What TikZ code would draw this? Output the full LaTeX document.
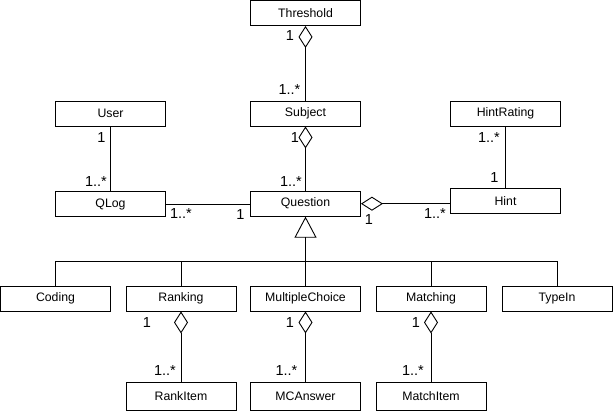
\documentclass[tikz,border=0pt]{standalone}
\usepackage{fontspec}
\setmainfont{Liberation Sans}
\usetikzlibrary{arrows.meta}
\begin{document}
\begin{tikzpicture}[x=1pt,y=-1pt,
 cls/.style={draw, line width=0.9pt, minimum width=110pt, minimum height=25pt, inner sep=0pt, font=\fontsize{12.3}{14}\selectfont},
 item/.style={cls, minimum height=28pt},
 mult/.style={inner sep=0pt, font=\fontsize{14.5}{16}\selectfont},
 ln/.style={line width=0.9pt},
 agg/.style={ln, {Diamond[open,length=22pt,width=14pt]}-},
 gen/.style={ln, -{Triangle[open,length=21pt,width=22pt]}}
]
\useasboundingbox (0,0) rectangle (614,415);
% classes
\node[cls] (threshold) at (305.5,13) {Threshold};
\node[cls] (subject) at (305.5,113.5) {Subject};
\node[cls] (question) at (305.5,203.7) {Question};
\node[cls] (user) at (110.5,113.5) {User};
\node[cls] (qlog) at (110.5,204) {QLog};
\node[cls] (hintrating) at (505.5,113.5) {HintRating};
\node[cls] (hint) at (505.5,201.3) {Hint};
\node[cls] (coding) at (55.5,298.5) {Coding};
\node[cls] (ranking) at (181,298.5) {Ranking};
\node[cls] (mc) at (305.5,298.5) {MultipleChoice};
\node[cls] (matching) at (431,298.5) {Matching};
\node[cls] (typein) at (557,298.5) {TypeIn};
\node[item] (rankitem) at (181,396) {RankItem};
\node[item] (mcanswer) at (305.5,396) {MCAnswer};
\node[item] (matchitem) at (431,396) {MatchItem};
% connectors
\draw[agg] (threshold.south) -- (subject.north);
\draw[agg] (subject.south) -- (question.north);
\draw[ln] (user.south) -- (qlog.north);
\draw[ln] (qlog.east) -- (qlog.east -| question.west);
\draw[agg] (question.east) -- (question.east -| hint.west);
\draw[ln] (hintrating.south) -- (hint.north);
\draw[gen] (mc.north) -- (question.south);
\coordinate (bar) at (305.5,261.5);
\draw[ln] (coding.north) |- (bar) -| (typein.north);
\draw[ln] (ranking.north) -- (ranking.north |- bar);
\draw[ln] (matching.north) -- (matching.north |- bar);
\draw[agg] (ranking.south) -- (rankitem.north);
\draw[agg] (mc.south) -- (mcanswer.north);
\draw[agg] (matching.south) -- (matchitem.north);
% multiplicities
\node[mult] (m1) at (290,35.5) {1};
\node[mult] (m2) at (289.5,89.5) {1..*};
\node[mult] (m3) at (295,138) {1};
\node[mult] (m4) at (291,181.5) {1..*};
\node[mult] (m5) at (101.5,138) {1};
\node[mult] (m6) at (96,181.5) {1..*};
\node[mult] (m7) at (181,214) {1..*};
\node[mult] (m8) at (240.5,214.5) {1};
\node[mult] (m9) at (489,137.5) {1..*};
\node[mult] (m10) at (494.5,178) {1};
\node[mult] (m11) at (369,220) {1};
\node[mult] (m12) at (435,213.5) {1..*};
\node[mult] (m13) at (147,323) {1};
\node[mult] (m14) at (165,370.5) {1..*};
\node[mult] (m15) at (290,323) {1};
\node[mult] (m16) at (286.5,370.5) {1..*};
\node[mult] (m17) at (416,323) {1};
\node[mult] (m18) at (413,370.5) {1..*};
\end{tikzpicture}
\end{document}
